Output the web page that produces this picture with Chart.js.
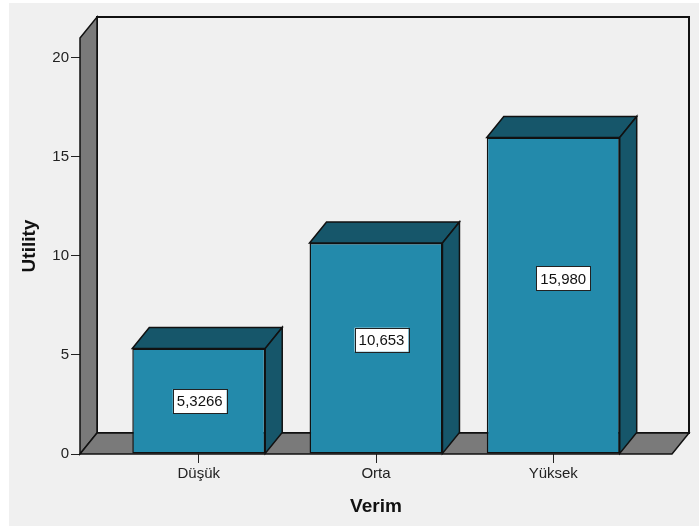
<!DOCTYPE html>
<html>
<head>
<meta charset="utf-8">
<script src="https://cdn.jsdelivr.net/npm/chart.js@4.4.1/dist/chart.umd.min.js"></script>
<style>
  html, body { margin: 0; padding: 0; background: #fff; }
  canvas { display: block; }
</style>
</head>
<body>
<canvas id="chart" width="699" height="526"></canvas>
<script>
const categories = ['Düşük', 'Orta', 'Yüksek'];
const utility = [5.3266, 10.653, 15.980];
const yTicks = [0, 5, 10, 15, 20];

// depth of the fake 3D box (pixels to the right and upwards)
const DX = 17;
const DY = 21;
const FRONT = '#238aab';
const SHADE = '#16566a';
const WALL = '#7a7a7a';
const BG = '#f0f0f0';
const LINE = '#111';
const FONT = "'Liberation Sans', Arial, sans-serif";

function fmt(v) {
  return v.toPrecision(5).replace('.', ',');
}

function poly(ctx, pts, fill, lw) {
  ctx.beginPath();
  pts.forEach(([x, y], i) => (i ? ctx.lineTo(x, y) : ctx.moveTo(x, y)));
  ctx.closePath();
  ctx.fillStyle = fill;
  ctx.fill();
  ctx.lineWidth = lw;
  ctx.strokeStyle = LINE;
  ctx.stroke();
}

const boxes3d = {
  id: 'boxes3d',
  beforeDraw(chart) {
    const { ctx, width, height } = chart;
    ctx.save();
    ctx.fillStyle = '#fff';
    ctx.fillRect(0, 0, width, height);
    ctx.fillStyle = BG;
    ctx.fillRect(9, 3, width - 9, height - 3);
    ctx.restore();
  },
  beforeDatasetsDraw(chart) {
    const { ctx } = chart;
    const { left: L, right: R, top: T, bottom: B } = chart.chartArea;
    ctx.save();
    ctx.lineJoin = 'miter';
    // back wall
    ctx.fillStyle = BG;
    ctx.fillRect(L + DX, T - DY, R - L, B - T);
    ctx.lineWidth = 2;
    ctx.strokeStyle = LINE;
    ctx.strokeRect(L + DX, T - DY, R - L, B - T);
    // left wall and floor
    poly(ctx, [[L, T], [L + DX, T - DY], [L + DX, B - DY], [L, B]], WALL, 1.5);
    poly(ctx, [[L, B], [L + DX, B - DY], [R + DX, B - DY], [R, B]], WALL, 1.5);
    ctx.restore();
  },
  afterDatasetsDraw(chart) {
    const { ctx } = chart;
    const meta = chart.getDatasetMeta(0);
    const vals = chart.data.datasets[0].data.map(d => d.y);
    const lo = Math.min(...vals), hi = Math.max(...vals);
    ctx.save();
    meta.data.forEach((el, i) => {
      const { x, y, base, width } = el.getProps(['x', 'y', 'base', 'width'], true);
      const l = x - width / 2, r = x + width / 2;
      poly(ctx, [[l, y], [l + DX, y - DY], [r + DX, y - DY], [r, y]], SHADE, 1.5);
      poly(ctx, [[r, y], [r + DX, y - DY], [r + DX, base - DY], [r, base]], SHADE, 1.5);

      // value label, drifting toward the back as the bar grows
      const t = (vals[i] - lo) / (hi - lo);
      const lx = x + 1 + t * 9;
      const ly = (y + base) / 2 - t * 17;
      const text = fmt(vals[i]);
      ctx.font = '15px ' + FONT;
      const w = ctx.measureText(text).width + 8;
      const h = 24;
      ctx.fillStyle = '#fff';
      ctx.fillRect(lx - w / 2, ly - h / 2, w, h);
      ctx.lineWidth = 1;
      ctx.strokeStyle = '#222';
      ctx.strokeRect(Math.round(lx - w / 2) + 0.5, Math.round(ly - h / 2) + 0.5, Math.round(w), h);
      ctx.fillStyle = '#111';
      ctx.textAlign = 'center';
      ctx.textBaseline = 'middle';
      ctx.fillText(text, lx, ly + 1);
    });
    ctx.restore();
  }
};

Chart.defaults.font.family = FONT;
Chart.defaults.color = '#222';

new Chart(document.getElementById('chart'), {
  type: 'bar',
  data: {
    datasets: [{
      data: utility.map((v, i) => ({ x: i, y: v })),
      backgroundColor: FRONT,
      borderColor: LINE,
      borderWidth: 1.5,
      borderSkipped: false,
      barPercentage: 0.75,
      categoryPercentage: 1
    }]
  },
  options: {
    responsive: false,
    animation: false,
    layout: { padding: { top: 38, right: 27, left: 0, bottom: 0 } },
    plugins: { legend: { display: false }, tooltip: { enabled: false } },
    scales: {
      x: {
        type: 'linear',
        offset: false,
        min: -0.67,
        max: 2.67,
        afterBuildTicks: s => { s.ticks = categories.map((_, i) => ({ value: i })); },
        afterFit: s => { s.height = 72; },
        ticks: {
          font: { size: 15 },
          padding: 2,
          callback: v => categories[v]
        },
        grid: { offset: false, drawOnChartArea: false, tickLength: 9, color: '#222' },
        border: { display: false },
        title: {
          display: true,
          text: 'Verim',
          font: { size: 19, weight: 'bold' },
          color: '#111',
          padding: { top: 0, bottom: 8 }
        }
      },
      y: {
        min: 0,
        max: 21,
        afterBuildTicks: s => { s.ticks = yTicks.map(v => ({ value: v })); },
        afterFit: s => { s.width = 80; },
        ticks: { font: { size: 15 }, padding: 2 },
        grid: { drawOnChartArea: false, tickLength: 9, color: '#222' },
        border: { display: false },
        title: {
          display: true,
          text: 'Utility',
          font: { size: 19, weight: 'bold' },
          color: '#111',
          padding: { top: 18, bottom: 0 }
        }
      }
    }
  },
  plugins: [boxes3d]
});
</script>
</body>
</html>
